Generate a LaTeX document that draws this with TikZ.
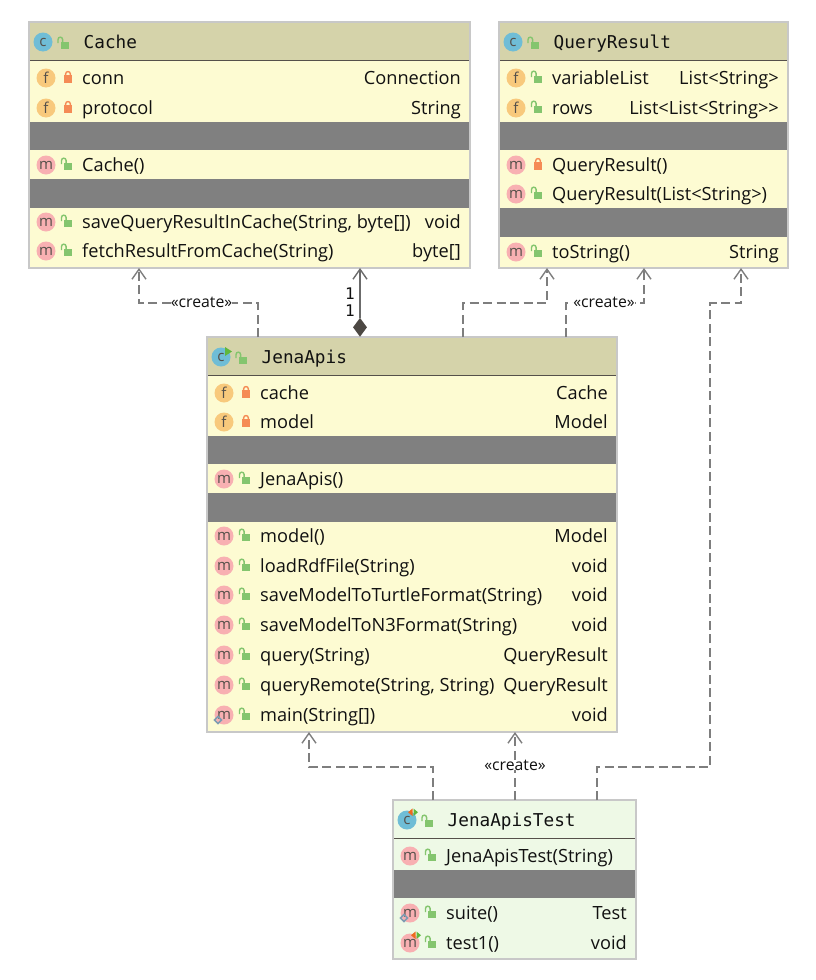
\documentclass[tikz,border=0pt]{standalone}
\usepackage{fontspec}
\setmainfont{Open Sans}
\newfontfamily\titlefont{DejaVu Sans Mono}
\usetikzlibrary{arrows.meta,shapes.geometric}
\definecolor{headbg}{HTML}{D5D3AA}
\definecolor{bodybg}{HTML}{FDFBD2}
\definecolor{testbg}{HTML}{EEF9E6}
\definecolor{edge}{HTML}{C8C8C8}
\definecolor{band}{HTML}{808080}
\definecolor{classic}{HTML}{6FBDD6}
\definecolor{fieldic}{HTML}{F8C97C}
\definecolor{methodic}{HTML}{F8B0B2}
\definecolor{pub}{HTML}{84C56E}
\definecolor{priv}{HTML}{F58B55}
\definecolor{ink}{HTML}{111111}
\definecolor{glyph}{HTML}{55504A}
\definecolor{wire}{HTML}{7E7E7E}
\definecolor{runarrow}{HTML}{5FB83C}
\definecolor{stopmark}{HTML}{EE6A1F}
\definecolor{staticic}{HTML}{7F9CB2}
\tikzset{
  x=1pt,y=-1pt,
  classbox/.style={draw=edge,line width=1.6pt,rectangle,inner sep=0pt,outer sep=0pt,anchor=north west},
  title/.style={anchor=base west,inner sep=0pt,text=ink,font=\titlefont\fontsize{17.7}{20}\selectfont},
  member/.style={anchor=base west,inner sep=0pt,text=ink,font=\fontsize{18.2}{20}\selectfont},
  rtype/.style={member,anchor=base east},
  badge/.style={circle,inner sep=0pt,minimum size=19pt,font=\fontsize{15}{16}\selectfont,text=glyph},
  tag/.style={inner sep=0pt,fill=white,text=ink,font=\fontsize{15.8}{16}\selectfont},
  mult/.style={inner sep=0pt,text=ink,font=\titlefont\fontsize{16}{17}\selectfont},
  dep/.style={draw=wire,line width=1.5pt,dash pattern=on 9pt off 4.5pt},
  opentip/.style={-{Straight Barb[length=10pt,width=14pt,line width=1.4pt]}},
  owner/.style={draw=wire!85!black,line width=1.4pt},
}
\newcount\itemno
% padlock drawn around the current point, open shackle
\newcommand{\openlock}[1]{%
  \begin{scope}[shift={(#1)}]
    \fill[pub] (-4,-2) rectangle (4,4.5);
    \draw[pub,line width=1.4pt] (-6.5,-1) -- (-6.5,-4.5) .. controls (-6.5,-7.6) and (-1.9,-7.6) .. (-1.9,-4.5) -- (-1.9,-2);
  \end{scope}}
% padlock drawn around the current point, closed shackle
\newcommand{\closedlock}[1]{%
  \begin{scope}[shift={(#1)}]
    \fill[priv] (-4,-3.5) rectangle (4,4.5);
    \draw[priv,line width=1.4pt] (-2.4,-3) -- (-2.4,-4) .. controls (-2.4,-7.2) and (2.4,-7.2) .. (2.4,-4) -- (2.4,-3);
  \end{scope}}
% one compartment row: #1 box left, #2 box right, #3 y, #4 letter, #5 colour, #6 lock macro, #7 name, #8 type
\newcommand{\memberrow}[8]{%
  \global\advance\itemno by 1
  \node[badge,fill=#5] (b\the\itemno) at (#1+17,#3) {#4};
  \coordinate (l\the\itemno) at (#1+39,#3);
  #6{l\the\itemno}
  \node[member] (n\the\itemno) at (#1+53,#3+6) {#7};
  \if\relax\detokenize{#8}\relax\else
    \node[rtype] (r\the\itemno) at (#2-9,#3+6) {#8};
  \fi}
% class heading: #1 left, #2 y, #3 title
\newcommand{\classhead}[3]{%
  \global\advance\itemno by 1
  \node[badge,fill=classic] (b\the\itemno) at (#1+14,#2) {c};
  \coordinate (l\the\itemno) at (#1+35.5,#2+2);
  \openlock{l\the\itemno}
  \node[title] (n\the\itemno) at (#1+54.5,#2+6) {#3};}
% run indicator on the latest badge
\newcommand{\runmark}{%
  \begin{scope}[shift={(b\the\itemno)}]
    \fill[runarrow] (4,-10) -- (11,-5.5) -- (4,-1) -- cycle;
  \end{scope}}
% test markers on the latest badge
\newcommand{\testmark}{%
  \begin{scope}[shift={(b\the\itemno)}]
    \fill[stopmark] (5.5,-11.5) -- (5.5,-4) -- (1,-7.75) -- cycle;
    \fill[runarrow] (6.5,-11.5) -- (6.5,-4) -- (11,-7.75) -- cycle;
  \end{scope}}
% hollow diamond for a static member, on the latest badge
\newcommand{\staticmark}{%
  \begin{scope}[shift={(b\the\itemno)}]
    \draw[staticic,line width=1.5pt] (-9.5,5) -- (-6,1.5) -- (-2.5,5) -- (-6,8.5) -- cycle;
  \end{scope}}
\begin{document}
\begin{tikzpicture}
\useasboundingbox (0,0) rectangle (815,980);

% class frames
\node[classbox,fill=bodybg,minimum width=441pt,minimum height=246pt] (cache) at (29,22) {};
\node[classbox,fill=bodybg,minimum width=289pt,minimum height=246pt] (result) at (499,22) {};
\node[classbox,fill=bodybg,minimum width=410pt,minimum height=395pt] (jena) at (207,337) {};
\node[classbox,fill=testbg,minimum width=243pt,minimum height=159pt] (test) at (393,800) {};

% headers
\fill[headbg] (29,22) rectangle (470,60);
\draw[glyph,line width=1.2pt] (29,60.5) -- (470,60.5);
\fill[headbg] (499,22) rectangle (788,60);
\draw[glyph,line width=1.2pt] (499,60.5) -- (788,60.5);
\fill[headbg] (207,337) rectangle (617,375);
\draw[glyph,line width=1.2pt] (207,375.5) -- (617,375.5);
\draw[glyph,line width=1.2pt] (393,838.5) -- (636,838.5);

% empty compartments
\fill[band] (29,122) rectangle (470,150);
\fill[band] (29,179) rectangle (470,208);
\fill[band] (499,122) rectangle (788,150);
\fill[band] (499,208) rectangle (788,237);
\fill[band] (207,436) rectangle (617,464);
\fill[band] (207,493) rectangle (617,522);
\fill[band] (393,870) rectangle (636,898);

% frames redrawn over the fills
\draw[edge,line width=1.6pt] (cache.north west) rectangle (cache.south east);
\draw[edge,line width=1.6pt] (result.north west) rectangle (result.south east);
\draw[edge,line width=1.6pt] (jena.north west) rectangle (jena.south east);
\draw[edge,line width=1.6pt] (test.north west) rectangle (test.south east);

% Cache
\classhead{29}{42}{Cache}
\memberrow{29}{470}{78}{f}{fieldic}{\closedlock}{conn}{Connection}
\memberrow{29}{470}{108}{f}{fieldic}{\closedlock}{protocol}{String}
\memberrow{29}{470}{165}{m}{methodic}{\openlock}{Cache()}{}
\memberrow{29}{470}{222}{m}{methodic}{\openlock}{saveQueryResultInCache(String, byte[])}{void}
\memberrow{29}{470}{251}{m}{methodic}{\openlock}{fetchResultFromCache(String)}{byte[]}

% QueryResult
\classhead{499}{42}{QueryResult}
\memberrow{499}{788}{78}{f}{fieldic}{\openlock}{variableList}{List<String>}
\memberrow{499}{788}{108}{f}{fieldic}{\openlock}{rows}{List<List<String>{}>}
\memberrow{499}{788}{165}{m}{methodic}{\closedlock}{QueryResult()}{}
\memberrow{499}{788}{194}{m}{methodic}{\openlock}{QueryResult(List<String>)}{}
\memberrow{499}{788}{252}{m}{methodic}{\openlock}{toString()}{String}

% JenaApis
\classhead{207}{357}{JenaApis}
\runmark
\memberrow{207}{617}{393}{f}{fieldic}{\closedlock}{cache}{Cache}
\memberrow{207}{617}{422}{f}{fieldic}{\closedlock}{model}{Model}
\memberrow{207}{617}{479}{m}{methodic}{\openlock}{JenaApis()}{}
\memberrow{207}{617}{536}{m}{methodic}{\openlock}{model()}{Model}
\memberrow{207}{617}{566}{m}{methodic}{\openlock}{loadRdfFile(String)}{void}
\memberrow{207}{617}{595}{m}{methodic}{\openlock}{saveModelToTurtleFormat(String)}{void}
\memberrow{207}{617}{625}{m}{methodic}{\openlock}{saveModelToN3Format(String)}{void}
\memberrow{207}{617}{655}{m}{methodic}{\openlock}{query(String)}{QueryResult}
\memberrow{207}{617}{685}{m}{methodic}{\openlock}{queryRemote(String, String)}{QueryResult}
\memberrow{207}{617}{715}{m}{methodic}{\openlock}{main(String[])}{void}
\staticmark

% JenaApisTest
\classhead{393}{820}{JenaApisTest}
\testmark
\memberrow{393}{636}{856}{m}{methodic}{\openlock}{JenaApisTest(String)}{}
\memberrow{393}{636}{913}{m}{methodic}{\openlock}{suite()}{Test}
\staticmark
\memberrow{393}{636}{943}{m}{methodic}{\openlock}{test1()}{void}
\testmark

% dependencies
\draw[dep,opentip] ([xshift=51pt]jena.north west) -- ++(0,-34) -| ([xshift=110pt]cache.south west);
\draw[dep,opentip] ([xshift=256pt]jena.north west) -- ++(0,-34) -| ([xshift=48pt]result.south west);
\draw[dep,opentip] ([xshift=359pt]jena.north west) -- ++(0,-34) -| ([xshift=145pt]result.south west);
\draw[dep,opentip] ([xshift=40pt]test.north west) -- ++(0,-33) -| ([xshift=102pt]jena.south west);
\draw[dep,opentip] ([xshift=122pt]test.north west) -- ([xshift=308pt]jena.south west);
\draw[dep,opentip] ([xshift=204pt]test.north west) -- ++(0,-33) -- ++(113,0) -- ++(0,-464) -| ([xshift=242pt]result.south west);

% composition from JenaApis to Cache
\node[diamond,fill=glyph!90!black,inner sep=0pt,minimum width=14pt,minimum height=19pt,anchor=south] (own) at ([xshift=153pt]jena.north west) {};
\draw[owner,opentip] (own.north) -- ([xshift=331pt]cache.south west);

% relationship labels
\node[tag] (tagA) at (201.5,302) {«create»};
\node[tag] (tagB) at (604,302) {«create»};
\node[tag] (tagC) at (515,765) {«create»};
\node[mult] (multA) at (350,294) {1};
\node[mult] (multB) at (350,311) {1};
\end{tikzpicture}
\end{document}
